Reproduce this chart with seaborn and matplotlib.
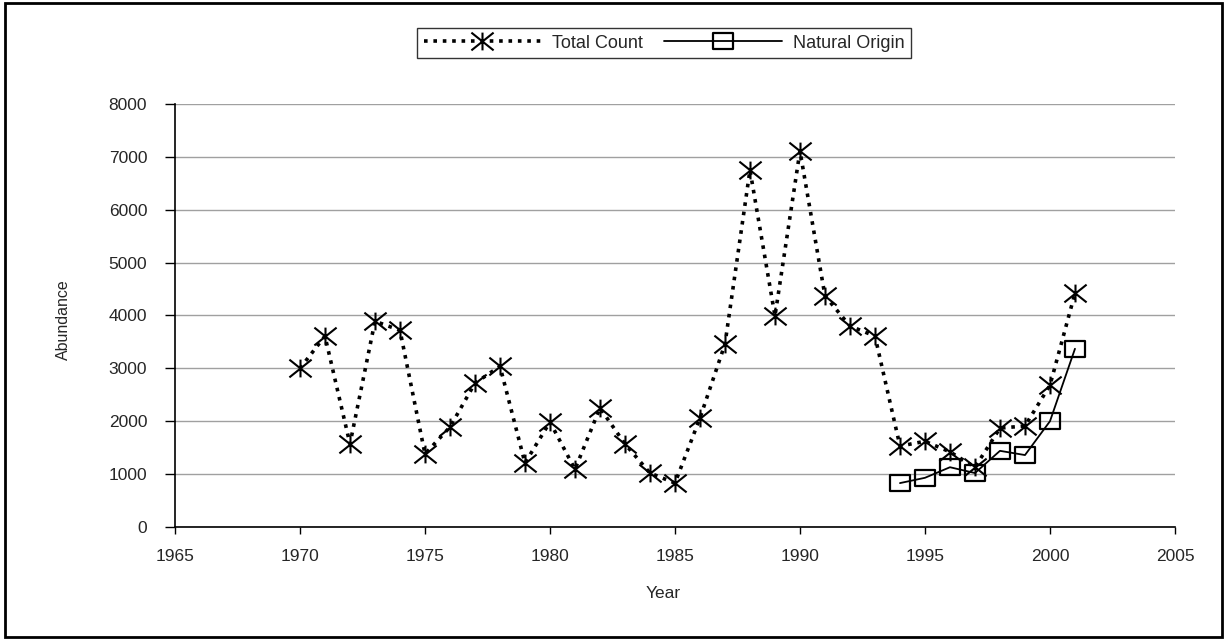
import matplotlib
matplotlib.use("Agg")
import matplotlib.pyplot as plt
from matplotlib.path import Path
from matplotlib.patches import Rectangle
import seaborn as sns
import pandas as pd

# valores
years_total = list(range(1970, 2002))
total_count = [3000, 3610, 1570, 3890, 3720, 1380, 1890, 2720, 3040, 1210,
               1985, 1090, 2250, 1570, 1020, 830, 2060, 3460, 6750, 3990,
               7110, 4370, 3800, 3610, 1530, 1620, 1420, 1130, 1870, 1910,
               2680, 4420]
years_natural = list(range(1994, 2002))
natural_origin = [830, 930, 1130, 1020, 1440, 1360, 2000, 3370]

x_ticks = [1965, 1970, 1975, 1980, 1985, 1990, 1995, 2000, 2005]
y_ticks = [0, 1000, 2000, 3000, 4000, 5000, 6000, 7000, 8000]

df_total = pd.DataFrame({'year': years_total, 'abundance': total_count})
df_nat = pd.DataFrame({'year': years_natural, 'abundance': natural_origin})

# marcador asterisco (vertical + X abierta)
ast = Path([(0, -0.8), (0, 0.8), (-1, -0.8), (1, 0.8), (-1, 0.8), (1, -0.8)],
           [Path.MOVETO, Path.LINETO, Path.MOVETO, Path.LINETO, Path.MOVETO, Path.LINETO])
# marcador rectangulo
rect = Path([(-1, -0.75), (1, -0.75), (1, 0.75), (-1, 0.75), (-1, -0.75)],
            [Path.MOVETO, Path.LINETO, Path.LINETO, Path.LINETO, Path.CLOSEPOLY])

sns.set_style('white')
plt.rcParams['font.family'] = ['Liberation Sans', 'DejaVu Sans']

fig = plt.figure(figsize=(12.27, 6.4), dpi=100)
ax = fig.add_axes([0.1426, 0.1766, 0.815, 0.661])

sns.lineplot(data=df_total, x='year', y='abundance', ax=ax, color='black',
             linestyle=(0, (1, 1.6)), linewidth=2.6, marker=ast, markersize=16,
             markeredgewidth=1.5, markeredgecolor='black', label='Total Count')
sns.lineplot(data=df_nat, x='year', y='abundance', ax=ax, color='black',
             linewidth=1.3, marker=rect, markersize=15, markeredgewidth=1.6,
             markerfacecolor='none', markeredgecolor='black', label='Natural Origin')

ax.set_xlim(1965, 2005)
ax.set_ylim(0, 8000)
ax.set_xticks(x_ticks)
ax.set_yticks(y_ticks)
ax.tick_params(axis='x', bottom=True, direction='out', length=5, width=1,
               color='black', labelsize=12.5, pad=11)
ax.tick_params(axis='y', left=True, direction='out', length=7, width=1,
               color='black', labelsize=12.5, pad=13)
ax.yaxis.grid(True, color='#a0a0a0', linewidth=1)
ax.xaxis.grid(False)
for s in ['top', 'right']:
    ax.spines[s].set_visible(False)
for s in ['left', 'bottom']:
    ax.spines[s].set_color('black')
    ax.spines[s].set_linewidth(1.2)

ax.set_xlabel('Year', fontsize=12.5)
ax.set_ylabel('Abundance', fontsize=11.5)
ax.xaxis.set_label_coords(0.488, -0.139)
ax.yaxis.set_label_coords(-0.104, 0.49)

leg = ax.legend(loc='center', bbox_to_anchor=(664 / 1227, 1 - 43 / 640),
                bbox_transform=fig.transFigure, ncol=2, fontsize=13, frameon=True,
                fancybox=False, edgecolor='black', handlelength=6.5,
                columnspacing=1.2, handletextpad=0.6, borderpad=0.35)
leg.get_frame().set_linewidth(1)

# marco exterior
fig.patches.append(Rectangle((0.004, 0.004), 0.992, 0.992, transform=fig.transFigure,
                             fill=False, edgecolor='black', linewidth=2))

fig.savefig('out.png', dpi=100)
